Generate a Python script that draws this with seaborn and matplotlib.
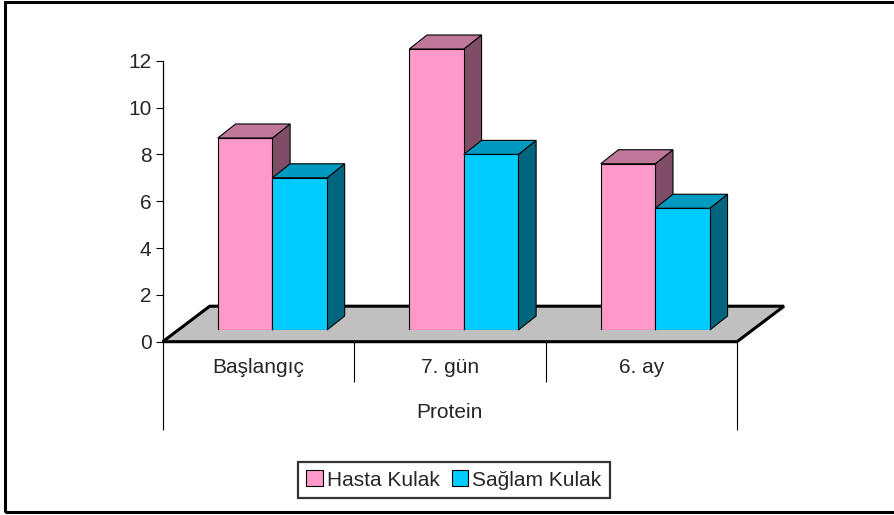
import numpy as np
import pandas as pd
import matplotlib
matplotlib.use("Agg")
import matplotlib.pyplot as plt
from matplotlib.patches import Polygon, Rectangle, Patch
import seaborn as sns

# --- data -------------------------------------------------------------
periods = ["Başlangıç", "7. gün", "6. ay"]
hasta_kulak = [8.2, 12.0, 7.1]
saglam_kulak = [6.5, 7.5, 5.2]
series_names = ["Hasta Kulak", "Sağlam Kulak"]
group_title = "Protein"
y_ticks = [0, 2, 4, 6, 8, 10, 12]

df = pd.DataFrame({
    "Dönem": periods * 2,
    "Değer": hasta_kulak + saglam_kulak,
    "Kulak": [series_names[0]] * 3 + [series_names[1]] * 3,
})

# --- style ------------------------------------------------------------
sns.set_style("white")
plt.rcParams["font.family"] = ["Liberation Sans", "DejaVu Sans"]
FS = 15

front_cols = ["#FF99CC", "#00CCFF"]
top_cols = ["#BF7899", "#0099BF"]
side_cols = ["#804D66", "#006680"]

W, H = 895, 515
fig = plt.figure(figsize=(W / 100, H / 100), dpi=100)
fig.patch.set_facecolor("white")


def box(left, top, right, bottom):
    return [left / W, 1 - bottom / H, (right - left) / W, (bottom - top) / H]


# front plane carries the value axis, floor and category labels
x_left, x_right = 162.7, 737.0
y_zero, y_top = 341.7, 60.7
ax_front = fig.add_axes(box(x_left, y_top, x_right, y_zero))
# bar plane sits a little deeper inside the floor
off_x, off_y = 14.0, 11.7
ax_bar = fig.add_axes(box(x_left + off_x, y_top - off_y, x_right + off_x, y_zero - off_y))

for ax in (ax_front, ax_bar):
    ax.set_xlim(-0.5, 2.5)
    ax.set_ylim(0, 12)
    ax.patch.set_visible(False)

px_x = 3.0 / (x_right - x_left)        # data units per pixel (x)
px_y = 12.0 / (y_zero - y_top)         # data units per pixel (y)

# floor slab
floor_dx, floor_dy = 47 * px_x, 35.5 * px_y
floor = Polygon([(-0.5, 0), (2.5, 0), (2.5 + floor_dx, floor_dy), (-0.5 + floor_dx, floor_dy)],
                closed=True, facecolor="#C0C0C0", edgecolor="black", linewidth=2.2,
                clip_on=False, zorder=1, joinstyle="miter")
ax_front.add_patch(floor)

# value axis
for s in ["top", "right", "bottom"]:
    ax_front.spines[s].set_visible(False)
ax_front.spines["left"].set_color("black")
ax_front.spines["left"].set_linewidth(0.9)
ax_front.spines["left"].set_zorder(3)
ax_front.set_yticks(y_ticks)
ax_front.set_yticklabels([str(t) for t in y_ticks], fontsize=FS)
ax_front.tick_params(axis="y", direction="out", length=5, width=0.8, color="black", pad=3,
                     left=True)

# category axis
ax_front.set_xticks(range(len(periods)))
ax_front.set_xticklabels(periods, fontsize=FS)
ax_front.tick_params(axis="x", length=0, pad=12)
tr = ax_front.get_xaxis_transform()
ax_front.vlines([0.5, 1.5], -(382 - y_zero) / (y_zero - y_top), 0, transform=tr,
                colors="black", linewidth=0.8, clip_on=False)
ax_front.vlines([-0.5, 2.5], -(430 - y_zero) / (y_zero - y_top), 0, transform=tr,
                colors="black", linewidth=0.8, clip_on=False)
ax_front.text(0.5, -(412 - y_zero) / (y_zero - y_top), group_title, transform=ax_front.transAxes,
              ha="center", va="center", fontsize=FS)
ax_front.set_xlabel("")
ax_front.set_ylabel("")

# bars (front faces) through seaborn
sns.barplot(data=df, x="Dönem", y="Değer", hue="Kulak", order=periods,
            hue_order=series_names, palette=front_cols, width=0.57,
            edgecolor="black", linewidth=0.8, saturation=1, legend=False, ax=ax_bar)
ax_bar.set_xlim(-0.5, 2.5)
ax_bar.set_ylim(0, 12)
ax_bar.axis("off")

# top and side faces for the 3-D look
bar_dx, bar_dy = 17.7 * px_x, 14.0 * px_y
for k, cont in enumerate(ax_bar.containers):
    for rect in cont.patches:
        x0, y0 = rect.get_x(), rect.get_y()
        x1, y1 = x0 + rect.get_width(), y0 + rect.get_height()
        rect.set_zorder(2 + 2 * k)
        top = Polygon([(x0, y1), (x1, y1), (x1 + bar_dx, y1 + bar_dy), (x0 + bar_dx, y1 + bar_dy)],
                      closed=True, facecolor=top_cols[k], edgecolor="black", linewidth=0.8,
                      zorder=2 + 2 * k, clip_on=False)
        side = Polygon([(x1, y0), (x1, y1), (x1 + bar_dx, y1 + bar_dy), (x1 + bar_dx, y0 + bar_dy)],
                       closed=True, facecolor=side_cols[k], edgecolor="black", linewidth=0.8,
                       zorder=1 + 2 * k, clip_on=False)
        ax_bar.add_patch(side)
        ax_bar.add_patch(top)

# legend
handles = [Patch(facecolor=c, edgecolor="black", linewidth=0.8) for c in front_cols]
leg = fig.legend(handles, series_names, ncol=2, loc="center",
                 bbox_to_anchor=(454 / W, 1 - 480 / H), fontsize=FS, frameon=True,
                 fancybox=False, edgecolor="black", handlelength=0.8, handleheight=0.8,
                 handletextpad=0.2, columnspacing=0.55, borderpad=0.4, borderaxespad=0)
leg.get_frame().set_linewidth(1.6)

# outer frame of the chart area
fig.patches.append(Rectangle((5 / W, 1 - 512 / H), 1.2, (512 - 2) / H, transform=fig.transFigure,
                             fill=False, edgecolor="black", linewidth=2.2, zorder=0))

fig.savefig("out.png", dpi=100)
